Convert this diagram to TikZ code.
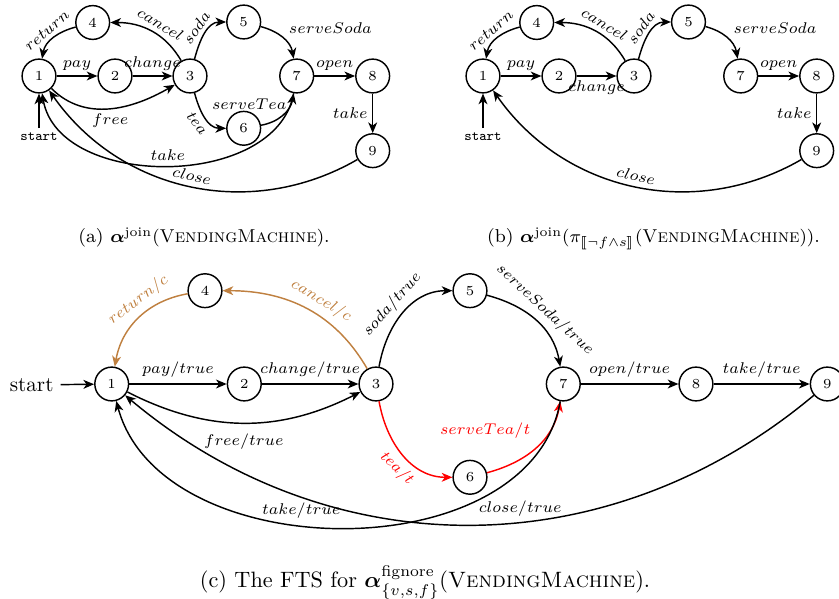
\documentclass[tikz,border=0pt]{standalone}
\usepackage{amsmath,amssymb}
\usepackage{stmaryrd}
\usetikzlibrary{arrows.meta}
\tikzset{
  st/.style={circle,draw,line width=0.65pt,minimum size=15.2pt,inner sep=0pt,font=\fontsize{6.2}{7}\selectfont},
  tr/.style={line width=0.65pt,-{Stealth[length=4.8pt,width=4pt,inset=1.4pt]}},
  la/.style={font=\fontsize{6.6}{8}\selectfont,inner sep=2pt},
  lc/.style={font=\fontsize{7.3}{9}\selectfont,inner sep=2.5pt},
  capsm/.style={font=\fontsize{8.4}{10}\selectfont,anchor=base},
  capbig/.style={font=\fontsize{10}{12}\selectfont,anchor=base},
}
\begin{document}
\begin{tikzpicture}[x=0.45pt,y=0.45pt]
\useasboundingbox (0,0) rectangle (839,-599);
% ---------------- (a)
\node[st] (a1) at (39,-76) {1};
\node[st] (a2) at (115,-76) {2};
\node[st] (a3) at (190,-76) {3};
\node[st] (a4) at (92.7,-22.5) {4};
\node[st] (a5) at (243.7,-22) {5};
\node[st] (a6) at (243.7,-128.3) {6};
\node[st] (a7) at (296.7,-76) {7};
\node[st] (a8) at (372.7,-76) {8};
\node[st] (a9) at (372.7,-150.7) {9};
\node[font=\ttfamily\fontsize{6.3}{7}\selectfont,inner sep=2pt] (as) at (39,-137) {start};
\draw[tr] (as) -- (a1);
\draw[tr] (a1) -- node[above,la] {$pay$} (a2);
\draw[tr] (a2) -- node[above,la] {$change$} (a3);
\draw[tr] (a1) to[out=-45,in=210] node[below,la,pos=0.5] {$free$} (a3);
\draw[tr] (a3) to[out=120,in=0] node[above,sloped,la,pos=0.45] {$cancel$} (a4);
\draw[tr] (a4) to[out=195,in=80] node[above,sloped,la] {$return$} (a1);
\draw[tr] (a3) to[out=75,in=180] node[above,sloped,la,pos=0.5] {$soda$} (a5);
\draw[tr] (a3) to[out=-75,in=180] node[below,sloped,la,pos=0.5] {$tea$} (a6);
\draw[tr] (a5) to[out=-15,in=100] node[pos=0.2,anchor=west,la,xshift=6pt,yshift=1pt] {$serveSoda$} (a7);
\draw[tr] (a6) to[out=10,in=-100] node[pos=0.5,anchor=south east,la,xshift=4pt] {$serveTea$} (a7);
\draw[tr] (a7) -- node[above,la] {$open$} (a8);
\draw[tr] (a8) -- node[left,la] {$take$} (a9);
\draw[tr] (a7) to[out=-100,in=-80] node[above,la,pos=0.5] {$take$} (a1);
\draw[tr] (a9) to[out=210,in=-55] node[above,sloped,la,pos=0.5] {$close$} (a1);
\node[capsm] (capa) at (204,-243) {(a) $\boldsymbol{\alpha}^{\text{join}}($\textsc{VendingMachine}$)$.};
% ---------------- (b)
\node[st] (b1) at (483,-76) {1};
\node[st] (b2) at (559,-76) {2};
\node[st] (b3) at (634,-76) {3};
\node[st] (b4) at (536.7,-22.5) {4};
\node[st] (b5) at (688.5,-22) {5};
\node[st] (b7) at (740.7,-76) {7};
\node[st] (b8) at (816.7,-76) {8};
\node[st] (b9) at (816.7,-150.7) {9};
\node[font=\ttfamily\fontsize{6.3}{7}\selectfont,inner sep=2pt] (bs) at (483,-137) {start};
\draw[tr] (bs) -- (b1);
\draw[tr] (b1) -- node[above,la] {$pay$} (b2);
\draw[tr] (b2) -- node[below,la] {$change$} (b3);
\draw[tr] (b3) to[out=120,in=0] node[above,sloped,la,pos=0.45] {$cancel$} (b4);
\draw[tr] (b4) to[out=195,in=80] node[above,sloped,la] {$return$} (b1);
\draw[tr] (b3) to[out=75,in=180] node[above,sloped,la,pos=0.5] {$soda$} (b5);
\draw[tr] (b5) to[out=-15,in=100] node[pos=0.2,anchor=west,la,xshift=6pt,yshift=1pt] {$serveSoda$} (b7);
\draw[tr] (b7) -- node[above,la] {$open$} (b8);
\draw[tr] (b8) -- node[left,la] {$take$} (b9);
\draw[tr] (b9) to[out=210,in=-55] node[above,sloped,la,pos=0.5] {$close$} (b1);
\node[capsm] (capb) at (653.5,-243) {(b) $\boldsymbol{\alpha}^{\text{join}}(\pi_{\llbracket\neg f\wedge s\rrbracket}($\textsc{VendingMachine}$))$.};
% ---------------- (c)
\node[st] (c1) at (111.7,-384) {1};
\node[st] (c2) at (244.3,-384) {2};
\node[st] (c3) at (376,-384) {3};
\node[st] (c4) at (205,-290.7) {4};
\node[st] (c5) at (470,-290.7) {5};
\node[st] (c6) at (470,-477.3) {6};
\node[st] (c7) at (563.3,-384) {7};
\node[st] (c8) at (696,-384) {8};
\node[st] (c9) at (827.3,-384) {9};
\node[font=\fontsize{9.5}{11}\selectfont,inner sep=3pt] (cs) at (31.7,-385) {start};
\draw[tr] (cs) -- (c1);
\draw[tr] (c1) -- node[above,lc] {$pay/true$} (c2);
\draw[tr] (c2) -- node[above,lc] {$change/true$} (c3);
\draw[tr] (c1) to[bend right=27] node[below,lc,pos=0.5,yshift=-2pt] {$free/true$} (c3);
\draw[tr,brown] (c3) to[out=120,in=0] node[above,sloped,lc,pos=0.45] {$cancel/c$} (c4);
\draw[tr,brown] (c4) to[out=190,in=80] node[above,sloped,lc,pos=0.4] {$return/c$} (c1);
\draw[tr] (c3) to[out=80,in=180] node[above,sloped,lc,pos=0.5] {$soda/true$} (c5);
\draw[tr] (c5) to[out=-15,in=100] node[above,sloped,lc,pos=0.5] {$serveSoda/true$} (c7);
\draw[tr,red] (c3) to[out=-80,in=180] node[below,sloped,lc,pos=0.55] {$tea/t$} (c6);
\draw[tr,red] (c6) to[out=15,in=-100] node[pos=0.5,anchor=south east,lc,inner sep=4pt,xshift=2pt] {$serveTea/t$} (c7);
\draw[tr] (c7) -- node[above,lc] {$open/true$} (c8);
\draw[tr] (c8) -- node[above,lc] {$take/true$} (c9);
\draw[tr] (c7) to[out=-100,in=-75] node[above,lc,pos=0.57] {$take/true$} (c1);
\draw[tr] (c9) to[out=220,in=-40] node[above,lc,pos=0.43] {$close/true$} (c1);
\node[capbig] (capc) at (425,-587.7) {(c) The FTS for $\boldsymbol{\alpha}^{\text{fignore}}_{\{v,s,f\}}($\textsc{VendingMachine}$)$.};
\end{tikzpicture}
\end{document}
